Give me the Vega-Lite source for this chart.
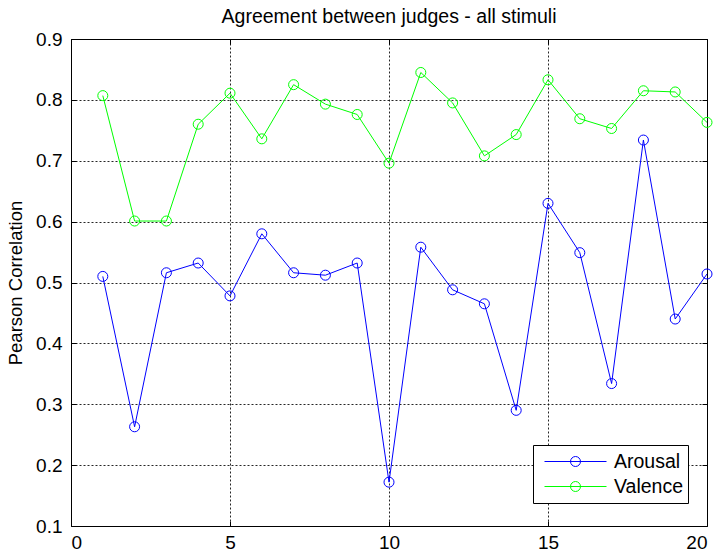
{
  "$schema": "https://vega.github.io/schema/vega-lite/v6.json",
  "width": 636,
  "height": 487,
  "autosize": {"type": "none"},
  "padding": {"left": 71, "top": 39, "right": 14, "bottom": 27},
  "background": "white",
  "title": {"text": "Agreement between judges - all stimuli", "fontSize": 19.5, "fontWeight": "normal", "font": "Liberation Sans", "color": "black", "anchor": "middle", "offset": 3},
  "data": {"values": [
    {"stimulus": 1, "series": "Arousal", "r": 0.510},
    {"stimulus": 2, "series": "Arousal", "r": 0.263},
    {"stimulus": 3, "series": "Arousal", "r": 0.516},
    {"stimulus": 4, "series": "Arousal", "r": 0.532},
    {"stimulus": 5, "series": "Arousal", "r": 0.478},
    {"stimulus": 6, "series": "Arousal", "r": 0.580},
    {"stimulus": 7, "series": "Arousal", "r": 0.516},
    {"stimulus": 8, "series": "Arousal", "r": 0.512},
    {"stimulus": 9, "series": "Arousal", "r": 0.532},
    {"stimulus": 10, "series": "Arousal", "r": 0.172},
    {"stimulus": 11, "series": "Arousal", "r": 0.558},
    {"stimulus": 12, "series": "Arousal", "r": 0.488},
    {"stimulus": 13, "series": "Arousal", "r": 0.465},
    {"stimulus": 14, "series": "Arousal", "r": 0.290},
    {"stimulus": 15, "series": "Arousal", "r": 0.630},
    {"stimulus": 16, "series": "Arousal", "r": 0.549},
    {"stimulus": 17, "series": "Arousal", "r": 0.334},
    {"stimulus": 18, "series": "Arousal", "r": 0.734},
    {"stimulus": 19, "series": "Arousal", "r": 0.440},
    {"stimulus": 20, "series": "Arousal", "r": 0.514},
    {"stimulus": 1, "series": "Valence", "r": 0.807},
    {"stimulus": 2, "series": "Valence", "r": 0.601},
    {"stimulus": 3, "series": "Valence", "r": 0.601},
    {"stimulus": 4, "series": "Valence", "r": 0.760},
    {"stimulus": 5, "series": "Valence", "r": 0.811},
    {"stimulus": 6, "series": "Valence", "r": 0.736},
    {"stimulus": 7, "series": "Valence", "r": 0.825},
    {"stimulus": 8, "series": "Valence", "r": 0.793},
    {"stimulus": 9, "series": "Valence", "r": 0.776},
    {"stimulus": 10, "series": "Valence", "r": 0.696},
    {"stimulus": 11, "series": "Valence", "r": 0.845},
    {"stimulus": 12, "series": "Valence", "r": 0.795},
    {"stimulus": 13, "series": "Valence", "r": 0.708},
    {"stimulus": 14, "series": "Valence", "r": 0.743},
    {"stimulus": 15, "series": "Valence", "r": 0.833},
    {"stimulus": 16, "series": "Valence", "r": 0.769},
    {"stimulus": 17, "series": "Valence", "r": 0.753},
    {"stimulus": 18, "series": "Valence", "r": 0.815},
    {"stimulus": 19, "series": "Valence", "r": 0.813},
    {"stimulus": 20, "series": "Valence", "r": 0.763}
  ]},
  "layer": [
    {
      "mark": {"type": "line", "strokeWidth": 1},
      "encoding": {
        "x": {"field": "stimulus", "type": "quantitative",
              "scale": {"domain": [0, 20], "nice": false, "zero": false},
              "axis": {"orient": "bottom", "values": [0, 5, 10, 15, 20], "title": null, "grid": true, "domain": false,
                       "tickSize": -5, "labelPadding": 12}},
        "y": {"field": "r", "type": "quantitative",
              "scale": {"domain": [0.1, 0.9], "nice": false, "zero": false},
              "axis": {"orient": "left", "values": [0.1, 0.2, 0.3, 0.4, 0.5, 0.6, 0.7, 0.8, 0.9], "format": ".1f",
                       "title": "Pearson Correlation", "grid": true, "domain": false,
                       "tickSize": -5, "labelPadding": 14, "titlePadding": 10}},
        "color": {"field": "series", "type": "nominal",
                  "scale": {"domain": ["Arousal", "Valence"], "range": ["#0000ff", "#00ff00"]},
                  "legend": {"title": null, "orient": "none", "legendX": 462, "legendY": 406,
                             "symbolType": "M-1,0L1,0M0.161,0A0.161,0.161,0,1,1,-0.161,0A0.161,0.161,0,1,1,0.161,0",
                             "symbolSize": 3844, "symbolStrokeWidth": 1, "symbolFillColor": "transparent",
                             "clipHeight": 25, "rowPadding": 0, "symbolOffset": 7, "labelOffset": 7,
                             "padding": 4, "fillColor": "white", "strokeColor": "black",
                             "labelFontSize": 19.5, "labelFont": "Liberation Sans", "labelColor": "black"}}
      }
    },
    {
      "mark": {"type": "point", "filled": false, "size": 100, "strokeWidth": 1, "opacity": 1},
      "encoding": {
        "x": {"field": "stimulus", "type": "quantitative",
              "axis": {"orient": "top", "values": [0, 5, 10, 15, 20], "title": null, "labels": false, "grid": false, "domain": false, "tickSize": -5}},
        "y": {"field": "r", "type": "quantitative",
              "axis": {"orient": "right", "values": [0.1, 0.2, 0.3, 0.4, 0.5, 0.6, 0.7, 0.8, 0.9], "title": null, "labels": false, "grid": false, "domain": false, "tickSize": -5}},
        "color": {"field": "series", "type": "nominal"}
      }
    }
  ],
  "resolve": {"axis": {"x": "independent", "y": "independent"}},
  "config": {
    "font": "Liberation Sans",
    "view": {"stroke": "black", "strokeWidth": 1},
    "axis": {
      "gridColor": "black", "gridDash": [2, 2], "gridOpacity": 0.85, "gridWidth": 1,
      "tickColor": "black", "tickWidth": 1,
      "labelFont": "Liberation Sans", "labelFontSize": 19, "labelColor": "black",
      "titleFont": "Liberation Sans", "titleFontSize": 18.5, "titleFontWeight": "normal", "titleColor": "black"
    }
  }
}
